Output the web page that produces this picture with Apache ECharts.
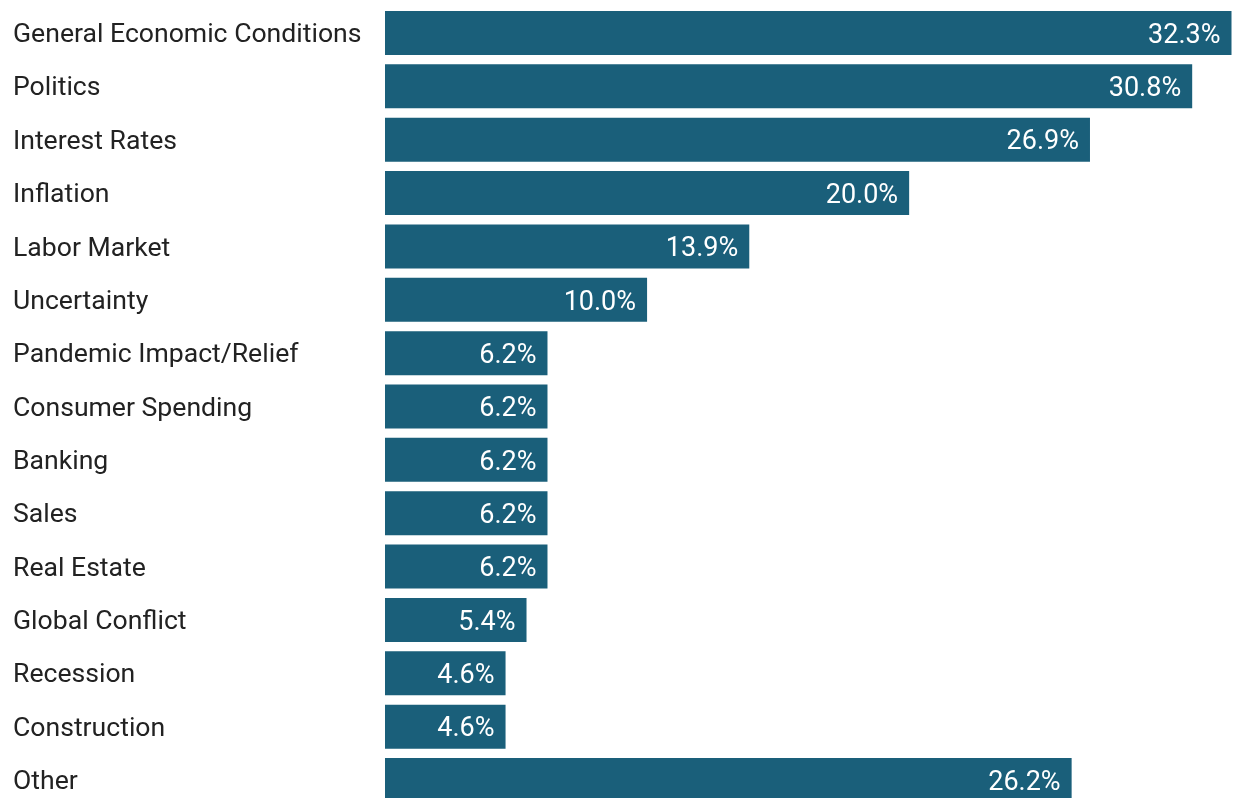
<!DOCTYPE html>
<html>
<head>
<meta charset="utf-8">
<script src="https://cdn.jsdelivr.net/npm/echarts@6/dist/echarts.min.js"></script>
<style>
html,body{margin:0;padding:0;background:#fff;}
#chart{width:1235px;height:798px;}
</style>
</head>
<body>
<div id="chart"></div>
<script>
const categories = ["General Economic Conditions","Politics","Interest Rates","Inflation","Labor Market","Uncertainty","Pandemic Impact/Relief","Consumer Spending","Banking","Sales","Real Estate","Global Conflict","Recession","Construction","Other"];
const values = [32.3,30.8,26.9,20.0,13.9,10.0,6.2,6.2,6.2,6.2,6.2,5.4,4.6,4.6,26.2];

const chart = echarts.init(document.getElementById('chart'), null, {renderer:'canvas'});
chart.setOption({
  animation:false,
  backgroundColor:'#ffffff',
  grid:{left:385, right:3.5, top:6.3, height:800.4, containLabel:false, outerBoundsMode:'none'},
  xAxis:{type:'value', min:0, max:32.3, show:false},
  yAxis:{
    type:'category', data:categories, inverse:true,
    axisLine:{show:false}, axisTick:{show:false}, splitLine:{show:false},
    axisLabel:{align:'left', margin:372, color:'#222222', fontFamily:'Roboto', fontSize:26.6,
      formatter:v=>'{a|'+v+'}',
      rich:{a:{color:'#222222', fontFamily:'Roboto', fontSize:26.6, padding:[5,0,0,0]}}}
  },
  series:[{
    type:'bar', data:values, barWidth:44,
    itemStyle:{color:'#1a5f7a'},
    label:{show:true, position:'insideRight', distance:11, offset:[0,3], color:'#ffffff', fontFamily:'Roboto', fontSize:27,
      formatter:p=>p.value.toFixed(1)+'%'}
  }]
});
</script>
</body>
</html>
